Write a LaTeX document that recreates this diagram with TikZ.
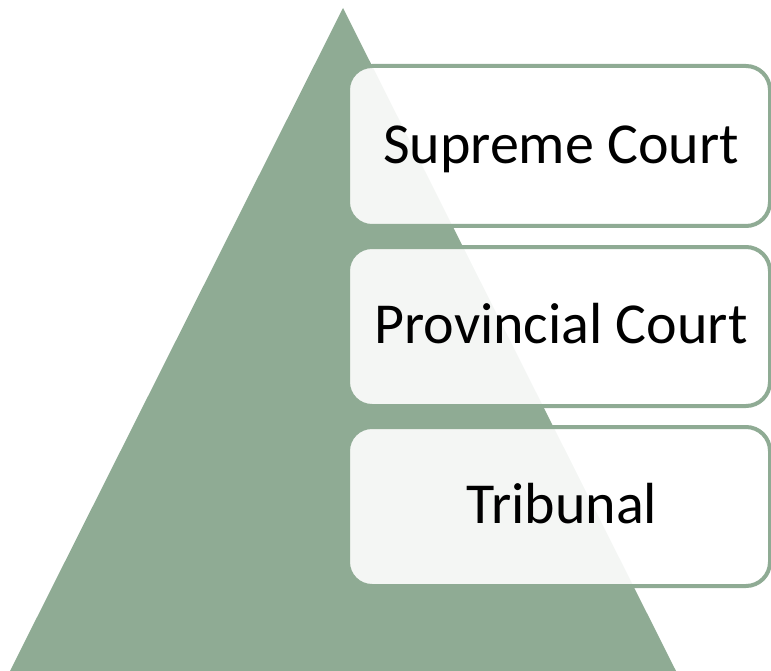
\documentclass[tikz,border=0pt]{standalone}
\usepackage{fontspec}
\setmainfont{Carlito}
\definecolor{pyrgreen}{HTML}{8FAB94}
\begin{document}
\begin{tikzpicture}[x=1pt,y=-1pt,
  tier/.style={draw=pyrgreen, line width=4pt, fill=white, fill opacity=0.9, text opacity=1, rounded corners=24pt},
  tierlabel/.style={font=\fontsize{58}{70}\selectfont, text=black, anchor=base}]
\useasboundingbox (0,0) rectangle (771,671);
\clip (0,0) rectangle (771,671);
\fill[pyrgreen] (343,8) coordinate (apex) -- (10,671) -- (676,671) -- cycle;
\draw[tier] (348,66) rectangle (770,226);
\draw[tier] (348,247) rectangle (770,406);
\draw[tier] (348,427) rectangle (770,586);
\node[tierlabel] (t1) at (561,164) {Supreme Court};
\node[tierlabel] (t2) at (561,343) {Provincial Court};
\node[tierlabel] (t3) at (562,523) {Tribunal};
\end{tikzpicture}
\end{document}
